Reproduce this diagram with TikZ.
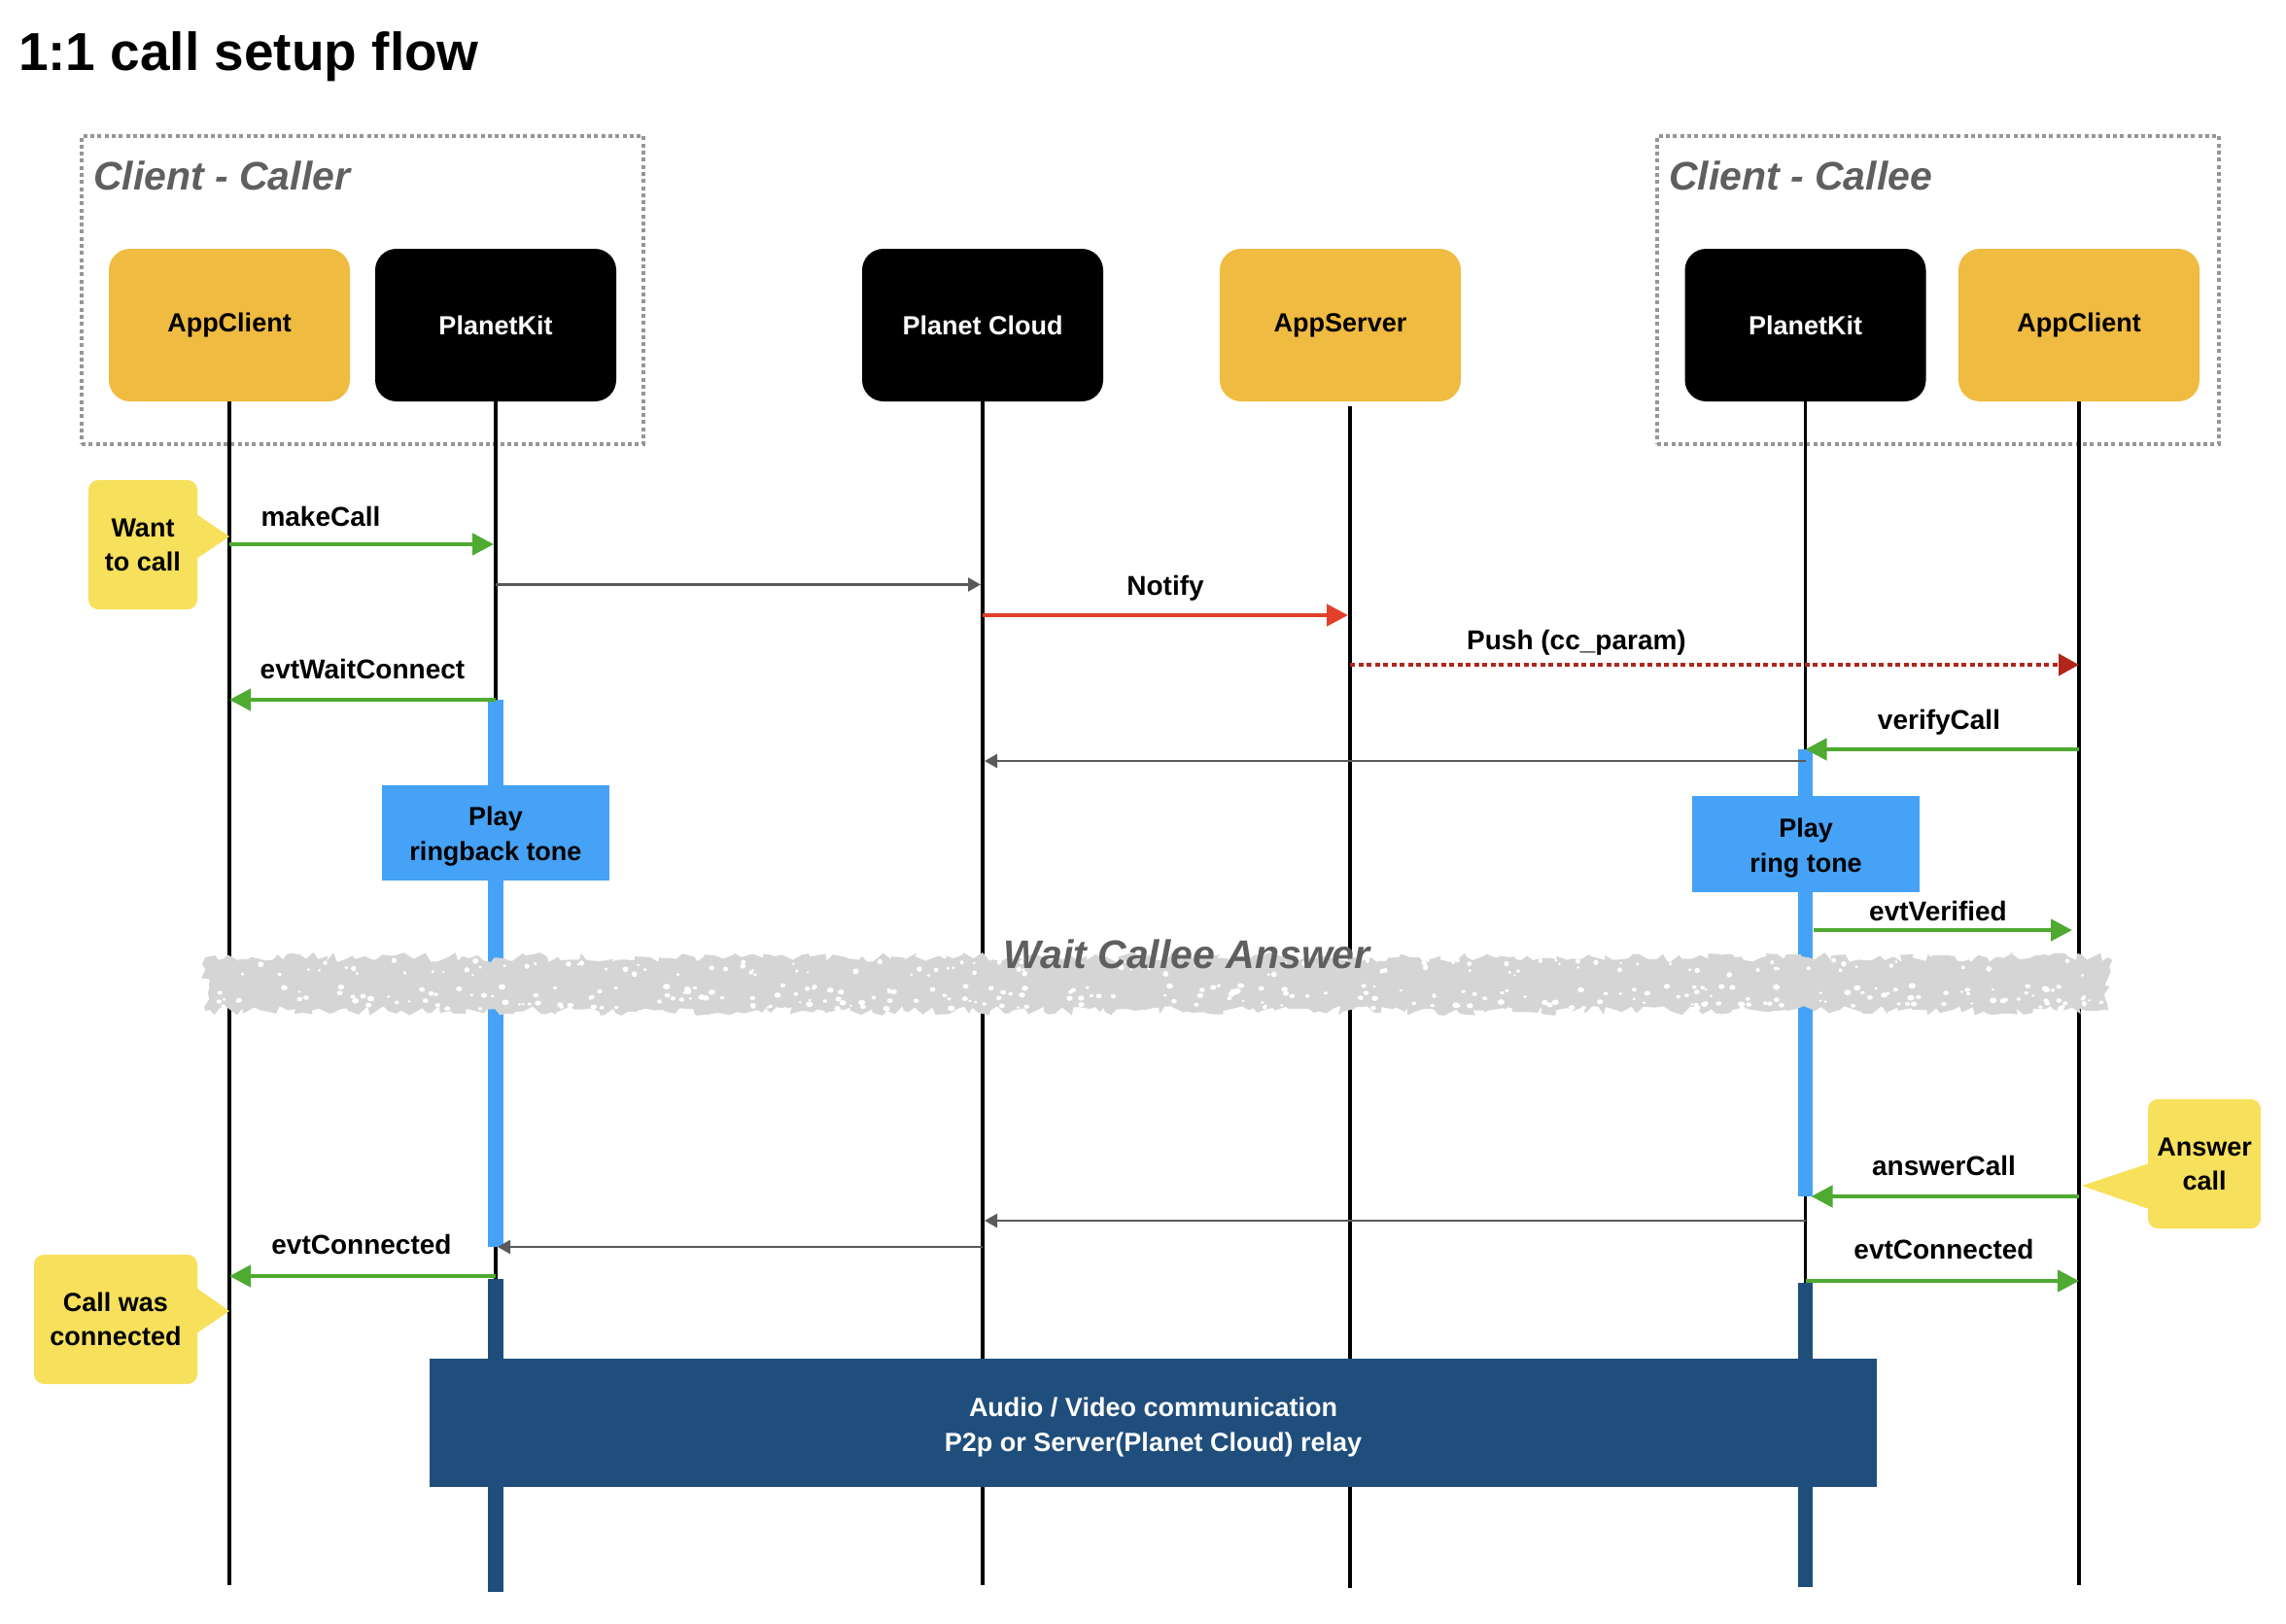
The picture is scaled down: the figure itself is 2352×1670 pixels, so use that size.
\documentclass[tikz,border=0pt]{standalone}
\usepackage{fontspec}
\setmainfont{Liberation Sans}
\usetikzlibrary{arrows.meta,decorations.pathmorphing}
\definecolor{appy}{HTML}{F0BB41}
\definecolor{noteY}{HTML}{F7E05B}
\definecolor{grn}{HTML}{4FAA32}
\definecolor{notred}{HTML}{E2402B}
\definecolor{pushred}{HTML}{B0261B}
\definecolor{lblue}{HTML}{46A2F6}
\definecolor{dblue}{HTML}{1F4E7C}
\definecolor{msggray}{HTML}{5A5A5A}
\definecolor{grpgray}{HTML}{969696}
\definecolor{labgray}{HTML}{5F5F5F}
\definecolor{bandgray}{HTML}{D5D5D5}
\begin{document}
\begin{tikzpicture}[x=1pt,y=-1pt,
  every node/.style={inner sep=0pt, outer sep=0pt},
  actor/.style={minimum width=248pt, minimum height=157pt, rounded corners=22pt, font=\fontsize{27}{35}\selectfont\bfseries},
  appbox/.style={actor, fill=appy, text=black},
  kitbox/.style={actor, fill=black, text=white},
  grp/.style={draw=grpgray, line width=4pt, dash pattern=on 4pt off 3.3pt},
  grplab/.style={anchor=base west, text=labgray, font=\fontsize{41}{49}\selectfont\bfseries\itshape},
  life/.style={line width=3.5pt, black},
  lbl/.style={anchor=base, font=\fontsize{28}{35}\selectfont\bfseries},
  gmsg/.style={grn, line width=4.5pt, -{Triangle[length=22pt,width=22pt]}},
  notifymsg/.style={notred, line width=4.5pt, -{Triangle[length=22pt,width=22pt]}},
  pushmsg/.style={pushred, line width=4pt, dash pattern=on 5pt off 3.5pt, -{Triangle[length=21pt,width=22pt]}},
  graymsg/.style={msggray, line width=2.5pt, -{Triangle[length=13pt,width=14pt]}},
  playbox/.style={fill=lblue, align=center, font=\fontsize{27}{36}\selectfont\bfseries},
  calloutbox/.style={fill=noteY, rounded corners=10pt, align=center, font=\fontsize{27}{35}\selectfont\bfseries},
  avbox/.style={fill=dblue},
  avtext/.style={text=white, align=center, font=\fontsize{27}{36}\selectfont\bfseries}
]
\useasboundingbox (0,0) rectangle (2352,1670);

% title
\node[anchor=base west, font=\fontsize{55}{66}\selectfont\bfseries] (title) at (19,72) {1:1 call setup flow};

% groups
\node[grp, minimum width=578pt, minimum height=317pt] (g1) at (373,298.5) {};
\node[grp, minimum width=578pt, minimum height=317pt] (g2) at (1994,298.5) {};
\node[grplab] (g1lab) at (96,195) {Client - Caller};
\node[grplab] (g2lab) at (1717,195) {Client - Callee};

% participants
\node[appbox] (ac1) at (236,334.5) {AppClient};
\node[kitbox] (pk1) at (510,334.5) {PlanetKit};
\node[kitbox] (pc) at (1011,334.5) {Planet Cloud};
\node[appbox] (as) at (1379,334.5) {AppServer};
\node[kitbox] (pk2) at (1857.5,334.5) {PlanetKit};
\node[appbox] (ac2) at (2139,334.5) {AppClient};
\coordinate (asl) at (1389,418);

% rows
\coordinate (bot) at (0,1631);
\coordinate (r1) at (0,560);
\coordinate (r2) at (0,601.5);
\coordinate (r3) at (0,633);
\coordinate (r4) at (0,684);
\coordinate (r5) at (0,720);
\coordinate (r6) at (0,771);
\coordinate (r7) at (0,783);
\coordinate (r8) at (0,957);
\coordinate (r9) at (0,1231);
\coordinate (r10) at (0,1256);
\coordinate (r11) at (0,1283);
\coordinate (r12) at (0,1313);
\coordinate (r13) at (0,1318);

% lifelines
\draw[life] (ac1.south) -- (ac1 |- bot);
\draw[life] (pk1.south) -- (pk1 |- bot);
\draw[life] (pc.south) -- (pc |- bot);
\draw[life] (asl) -- (asl |- 0,1634);
\draw[life] (pk2.south) -- (pk2 |- bot);
\draw[life] (ac2.south) -- (ac2 |- bot);

% activation bars
\fill[lblue] (502,720) rectangle (518,1283);
\fill[lblue] (1850,771) rectangle (1865,1231);
\fill[dblue] (502,1316) rectangle (518,1638);
\fill[dblue] (1850,1320) rectangle (1865,1633);

% play boxes
\node[playbox, minimum width=234pt, minimum height=98pt, text depth=0pt] (play1) at (510,857) {};
\node[playbox] (play1t) at (510,861) {Play\\ringback tone};
\node[playbox, minimum width=234pt, minimum height=99pt] (play2) at (1858,868.5) {};
\node[playbox] (play2t) at (1858,872.5) {Play\\ring tone};

% callouts
\node[calloutbox, minimum width=112pt, minimum height=133pt] (want) at (147,560.5) {Want\\to call};
\fill[noteY] ([yshift=31.5pt,xshift=-1pt]want.east) -- (ac1 |- 0,552) -- ([yshift=-14.5pt,xshift=-1pt]want.east) -- cycle;
\node[calloutbox, minimum width=168pt, minimum height=133pt] (conn) at (119,1357.5) {Call was\\connected};
\fill[noteY] ([yshift=32.5pt,xshift=-1pt]conn.east) -- (ac1 |- 0,1349) -- ([yshift=-14.5pt,xshift=-1pt]conn.east) -- cycle;
\node[calloutbox, minimum width=116pt, minimum height=133pt] (ans) at (2268,1197.5) {Answer\\call};
\fill[noteY] ([yshift=0.5pt,xshift=1pt]ans.west) -- (2142,1220) -- ([yshift=-46.5pt,xshift=1pt]ans.west) -- cycle;

% messages
\draw[gmsg, shorten >=2pt] (ac1 |- r1) -- (pk1 |- r1);
\node[lbl] (l1) at (330,541) {makeCall};
\draw[graymsg, shorten >=2pt] (pk1 |- r2) -- (pc |- r2);
\draw[notifymsg, shorten >=2pt] (pc |- r3) -- (asl |- r3);
\node[lbl] (l3) at (1199,612) {Notify};
\draw[pushmsg] (asl |- r4) -- (ac2 |- r4);
\node[lbl] (l4) at (1622,668) {Push (cc\_param)};
\draw[gmsg] (pk1 |- r5) -- (ac1 |- r5);
\node[lbl] (l5) at (373,698) {evtWaitConnect};
\draw[gmsg] (ac2 |- r6) -- (pk2 |- r6);
\node[lbl] (l6) at (1995,750) {verifyCall};
\draw[graymsg, shorten >=2pt] (pk2 |- r7) -- (pc |- r7);
\draw[gmsg, shorten <=8pt, shorten >=7pt] (pk2 |- r8) -- (ac2 |- r8);
\node[lbl] (l8) at (1994,947) {evtVerified};
\draw[gmsg, shorten >=6pt] (ac2 |- r9) -- (pk2 |- r9);
\node[lbl] (l9) at (2000,1209) {answerCall};
\draw[graymsg, shorten >=2pt] (pk2 |- r10) -- (pc |- r10);
\draw[graymsg, shorten >=2pt] (pc |- r11) -- (pk1 |- r11);
\draw[gmsg] (pk1 |- r12) -- (ac1 |- r12);
\node[lbl] (l12) at (372,1290) {evtConnected};
\draw[gmsg] (pk2 |- r13) -- (ac2 |- r13);
\node[lbl] (l13) at (2000,1295) {evtConnected};

% wait band
\pgfmathsetseed{42}
\fill[bandgray, decorate, decoration={random steps, segment length=6pt, amplitude=5pt}] (211,985) rectangle (2169,1040);
\foreach \i in {1,...,260}{
  \pgfmathsetmacro{\xx}{216+1950*rnd}
  \pgfmathsetmacro{\yy}{1014+24*rnd}
  \pgfmathsetmacro{\rr}{1.5+2.2*rnd}
  \fill[white] (\xx,\yy) ellipse ({\rr pt} and {0.8*\rr pt});
}
\foreach \i in {1,...,110}{
  \pgfmathsetmacro{\xx}{216+1950*rnd}
  \pgfmathsetmacro{\yy}{988+16*rnd}
  \pgfmathsetmacro{\rr}{1.2+1.8*rnd}
  \fill[white] (\xx,\yy) circle ({\rr pt});
}
\node[anchor=base, text=labgray, font=\fontsize{41}{49}\selectfont\bfseries\itshape] (wait) at (1221,996) {Wait Callee Answer};

% audio/video box
\node[avbox, minimum width=1489pt, minimum height=132pt] (av) at (1186.5,1464) {};
\node[avtext] (avt) at (1186.5,1468.5) {Audio / Video communication\\P2p or Server(Planet Cloud) relay};
\end{tikzpicture}
\end{document}
